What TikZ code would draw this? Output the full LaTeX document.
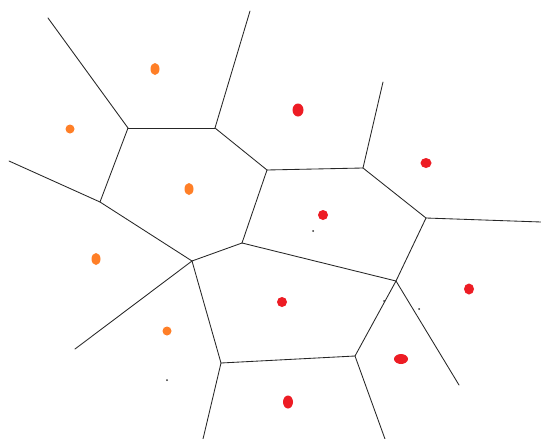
\documentclass[tikz,border=0pt]{standalone}
\begin{document}
\begin{tikzpicture}[x=1pt,y=-1pt,
  edge/.style={draw=black!85, line width=0.85pt, line cap=round, line join=round},
  osite/.style={fill=siteorange, draw=none},
  rsite/.style={fill=sitered, draw=none},
  speck/.style={fill=black!80, draw=none}]
\definecolor{siteorange}{HTML}{FF7F27}
\definecolor{sitered}{HTML}{ED1C24}
\useasboundingbox[fill=white] (0,0) rectangle (541,439);
% Voronoi vertices
\coordinate (A) at (128,128);
\coordinate (B) at (215,128);
\coordinate (C) at (267,170);
\coordinate (D) at (363,168);
\coordinate (E) at (426,218);
\coordinate (F) at (396,281);
\coordinate (G) at (242,243);
\coordinate (H) at (192,261);
\coordinate (I) at (100,202);
\coordinate (J) at (221,363);
\coordinate (K) at (355,356);
% free ends
\coordinate (tA) at (48,18);
\coordinate (tB) at (250,11);
\coordinate (tD) at (383,82);
\coordinate (rE) at (541,222);
\coordinate (lI) at (9,161);
\coordinate (lH) at (75,349);
\coordinate (bJ) at (203,439);
\coordinate (bK) at (385,439);
\coordinate (bF) at (459,385);
% edges
\draw[edge] (tA) -- (A);
\draw[edge] (tB) -- (B);
\draw[edge] (A) -- (B);
\draw[edge] (B) -- (C);
\draw[edge] (C) -- (D);
\draw[edge] (tD) -- (D);
\draw[edge] (D) -- (E);
\draw[edge] (E) -- (rE);
\draw[edge] (E) -- (F);
\draw[edge] (F) -- (G);
\draw[edge] (G) -- (C);
\draw[edge] (G) -- (H);
\draw[edge] (A) -- (I);
\draw[edge] (lI) -- (I) -- (H);
\draw[edge] (H) -- (lH);
\draw[edge] (H) -- (J);
\draw[edge] (J) -- (K);
\draw[edge] (K) -- (F);
\draw[edge] (F) -- (bF);
\draw[edge] (J) -- (bJ);
\draw[edge] (K) -- (bK);
% orange sites
\fill[osite] (155,69) ellipse (4.5 and 6);
\fill[osite] (70,129) ellipse (4.5 and 4.5);
\fill[osite] (189,189) ellipse (4.5 and 6);
\fill[osite] (96,259) ellipse (4.5 and 6);
\fill[osite] (167,331) ellipse (4.5 and 4.5);
% red sites
\fill[rsite] (298,110) ellipse (5.5 and 6.5);
\fill[rsite] (426,163) ellipse (5.5 and 5);
\fill[rsite] (323,215) ellipse (5 and 5);
\fill[rsite] (469,289) ellipse (5 and 5.5);
\fill[rsite] (282,302) ellipse (5 and 5);
\fill[rsite] (401,359) ellipse (7 and 5);
\fill[rsite] (288,402) ellipse (5 and 6.5);
% specks
\fill[speck] (313,231) circle (1);
\fill[speck] (419,309) circle (1);
\fill[speck] (167,380) circle (1);
\fill[speck] (384,301) circle (1);
\end{tikzpicture}
\end{document}
